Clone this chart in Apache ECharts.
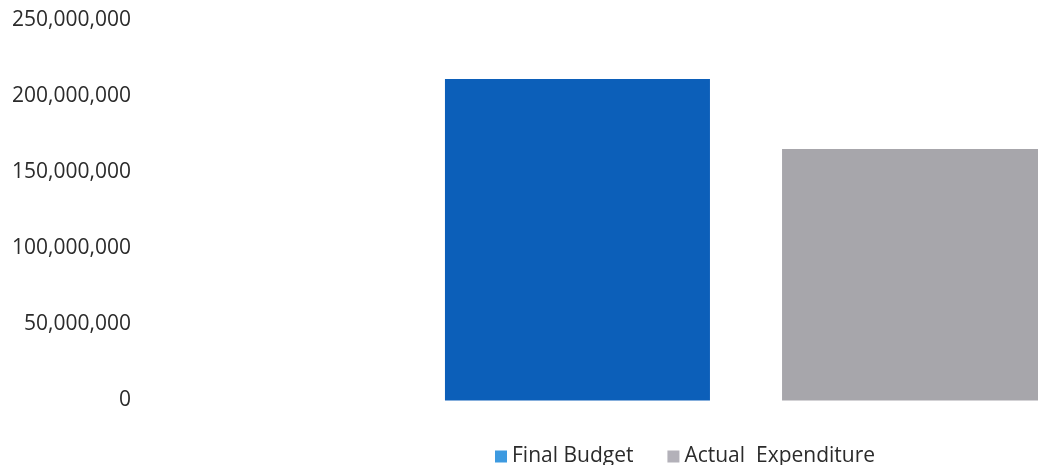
<!DOCTYPE html>
<html><head><meta charset="utf-8">
<script src="https://cdn.jsdelivr.net/npm/echarts@6/dist/echarts.min.js"></script>
<style>html,body{margin:0;padding:0;background:#fff;overflow:hidden;width:1038px;height:465px}#c{width:1352px;height:465px}</style>
</head><body><div id="c"></div>
<script>
const categories = [''];
const seriesNames = ['Final Budget', 'Actual  Expenditure'];
const finalBudget = [211500000];
const actualExpenditure = [165500000];
const yTicks = [0, 50000000, 100000000, 150000000, 200000000, 250000000];

const chart = echarts.init(document.getElementById('c'), null, {renderer: 'canvas'});
const fontFamily = '"Open Sans", "Noto Sans", sans-serif';
chart.setOption({
  animation: false,
  backgroundColor: '#ffffff',
  grid: {left: 140, right: 0, top: 20.5, bottom: 64.5},
  legend: {
    left: 490, top: 441, itemWidth: 12, itemHeight: 12, itemGap: 34,
    icon: 'rect',
    textStyle: {fontFamily, fontSize: 21, color: '#2b2b2b'},
    data: [
      {name: seriesNames[0], itemStyle: {color: '#3d9ae0'}},
      {name: seriesNames[1], itemStyle: {color: '#b3b1b9'}}
    ]
  },
  xAxis: {
    type: 'category', data: categories,
    axisLine: {show: false}, axisTick: {show: false}, axisLabel: {show: false}
  },
  yAxis: {
    type: 'value', min: yTicks[0], max: yTicks[yTicks.length - 1], interval: yTicks[1] - yTicks[0],
    axisLine: {show: false}, axisTick: {show: false},
    splitLine: {show: false},
    axisLabel: {
      margin: 9, fontFamily, fontSize: 21, color: '#2b2b2b', verticalAlign: 'middle', lineHeight: 26,
      padding: [4, 0, 0, 0],
      formatter: v => v.toLocaleString('en-US')
    }
  },
  series: [
    {name: seriesNames[0], type: 'bar', data: finalBudget, barWidth: 265, barGap: '27.2%',
     itemStyle: {color: '#0c5fb9'}},
    {name: seriesNames[1], type: 'bar', data: actualExpenditure, barWidth: 265,
     itemStyle: {color: '#a7a6ab'}}
  ]
});
</script></body></html>
